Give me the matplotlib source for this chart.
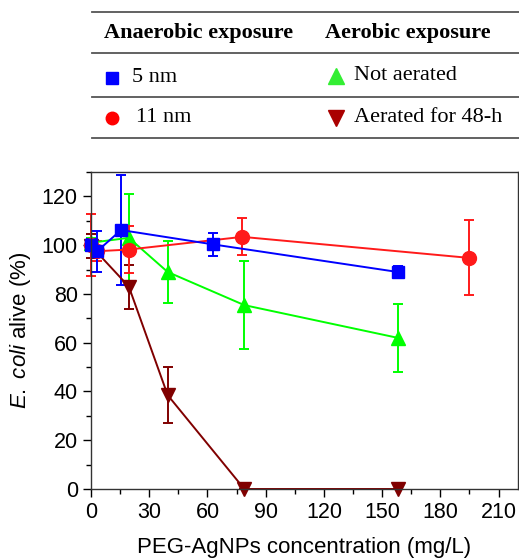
import matplotlib.pyplot as plt
from matplotlib.lines import Line2D
from matplotlib.ticker import MultipleLocator

# data
x_5nm = [0, 3, 15.5, 63, 158]
y_5nm = [100, 97.4, 106.2, 100.3, 89.0]
e_5nm = [2.5, 8.3, 22.5, 4.7, 2.5]

x_11nm = [0, 3, 19.5, 78, 194.5]
y_11nm = [100, 97.5, 98.2, 103.4, 94.8]
e_11nm = [12.6, 4.0, 9.7, 7.6, 15.4]

x_noair = [0, 19.5, 39.5, 79, 158]
y_noair = [101, 103, 89.0, 75.4, 62.0]
e_noair = [2.0, 18.0, 12.7, 18.0, 14.0]

x_air = [0, 19.5, 39.5, 79, 158]
y_air = [99.7, 83.0, 38.5, 0, 0]
e_air = [5.0, 9.0, 11.5, 0, 0]

xticks = [0, 30, 60, 90, 120, 150, 180, 210]
yticks = [0, 20, 40, 60, 80, 100, 120]

plt.rcParams['font.family'] = ['Liberation Sans', 'DejaVu Sans']
plt.rcParams['mathtext.fontset'] = 'custom'
plt.rcParams['mathtext.it'] = 'Liberation Sans:italic'
plt.rcParams['mathtext.rm'] = 'Liberation Sans'

fig = plt.figure(figsize=(5.19, 5.59), dpi=100)
ax = fig.add_axes([91 / 519, 70 / 559, 427 / 519, 317 / 559])

series = [
    (x_air, y_air, e_air, 'v', '#800000', 10),
    (x_noair, y_noair, e_noair, '^', '#00ff00', 10),
    (x_11nm, y_11nm, e_11nm, 'o', '#ff1a1a', 10),
    (x_5nm, y_5nm, e_5nm, 's', '#0000ff', 8),
]
for xs, ys, es, m, c, ms in series:
    ax.errorbar(xs, ys, yerr=es, marker=m, color=c, ms=ms, lw=1.4,
                elinewidth=1.4, capsize=3.5, capthick=1.4, clip_on=False)

ax.set_xlim(0, 220)
ax.set_ylim(0, 130)
ax.set_xticks(xticks)
ax.set_yticks(yticks)
ax.xaxis.set_minor_locator(MultipleLocator(15))
ax.yaxis.set_minor_locator(MultipleLocator(10))
ax.tick_params(which='major', direction='out', length=6, width=1, labelsize=15.5)
ax.tick_params(which='minor', direction='out', length=3.5, width=1)
for s in ax.spines.values():
    s.set_linewidth(1)
    s.set_color('#333333')

ax.set_xlabel('PEG-AgNPs concentration (mg/L)', fontsize=16, labelpad=10)
ax.set_ylabel('$\\mathit{E.}$ $\\mathit{coli}$ alive (%)', fontsize=16, labelpad=6)

# legend drawn as a small table above the axes
def fy(py):
    return 1 - py / 559

def fx(px):
    return px / 519

for py in [12, 53, 97, 138]:
    fig.add_artist(Line2D([fx(92), fx(519)], [fy(py), fy(py)], color='#555555', lw=1.3))

serif = ['Liberation Serif', 'DejaVu Serif']
fig.text(fx(104), fy(33), 'Anaerobic exposure', family=serif, weight='bold',
         fontsize=16, va='center')
fig.text(fx(325), fy(33), 'Aerobic exposure', family=serif, weight='bold',
         fontsize=16, va='center')

rows = [
    (112, 78, 's', '#0000ff', 8, 132, '5 nm'),
    (112, 118, 'o', '#ff0000', 9, 136, '11 nm'),
    (336, 76, '^', '#33ee33', 12, 354, 'Not aerated'),
    (336, 118, 'v', '#aa0000', 12, 354, 'Aerated for 48-h'),
]
for mx, my, m, c, ms, tx, label in rows:
    fig.add_artist(Line2D([fx(mx)], [fy(my)], marker=m, color=c, ms=ms, lw=0))
    fig.text(fx(tx), fy(my), label, family=serif, fontsize=16, va='center')

fig.savefig('out.png', dpi=100)
